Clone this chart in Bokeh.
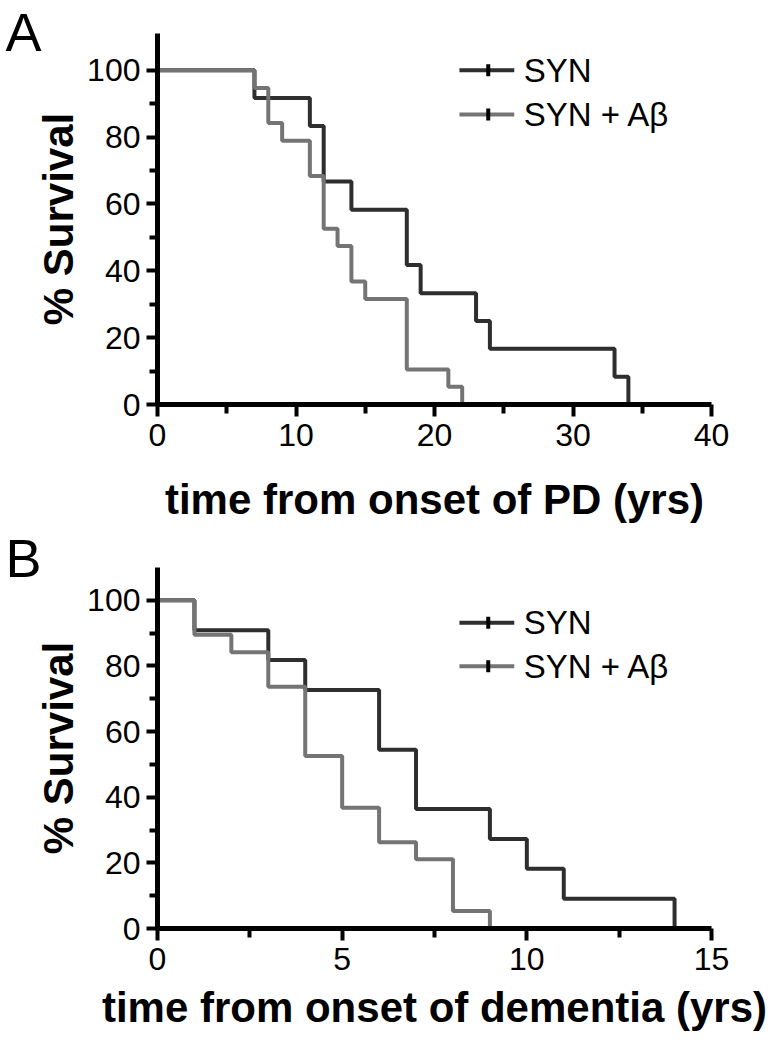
import math
from bokeh.plotting import figure
from bokeh.models import Range1d, FixedTicker
from bokeh.layouts import column
from bokeh.embed import file_html
from bokeh.resources import INLINE
from bokeh.core.properties import value

# ---------------- data ----------------
# Panel A: survival vs time from onset of PD (yrs)
a_syn_t = [0, 7, 11, 12, 14, 18, 19, 23, 24, 33, 34]
a_syn_s = [100, 91.7, 83.3, 66.7, 58.3, 41.7, 33.3, 25.0, 16.7, 8.3, 0]
a_ab_t = [0, 7, 8, 9, 11, 12, 13, 14, 15, 18, 21, 22]
a_ab_s = [100, 94.7, 84.2, 78.9, 68.4, 52.6, 47.4, 36.8, 31.6, 10.5, 5.3, 0]

# Panel B: survival vs time from onset of dementia (yrs)
b_syn_t = [0, 1, 3, 4, 6, 7, 9, 10, 11, 14]
b_syn_s = [100, 90.9, 81.8, 72.7, 54.5, 36.4, 27.3, 18.2, 9.1, 0]
b_ab_t = [0, 1, 2, 3, 4, 5, 6, 7, 8, 9]
b_ab_s = [100, 89.5, 84.2, 73.7, 52.6, 36.8, 26.3, 21.1, 5.3, 0]

series_labels = ["SYN", "SYN + A\u03b2"]
y_ticks = [0, 20, 40, 60, 80, 100]
y_minor = [10, 30, 50, 70, 90]
a_x_ticks = [0, 10, 20, 30, 40]
a_x_minor = [5, 15, 25, 35]
b_x_ticks = [0, 5, 10, 15]
b_x_minor = [2.5, 7.5, 12.5]

DARK = "#2e2e2e"
GRAY = "#747474"
FONT = "Liberation Sans"
FRAME_W = 554  # px, frame width


def make_panel(letter, xlabel, x_end, y_end, xt, xm, syn_t, syn_s, ab_t, ab_s,
               height, b_top, b_bottom, leg_y, lab_stand, title_stand, letter_stand):
    p = figure(width=767, height=height, output_backend="svg", toolbar_location=None,
               x_range=Range1d(0, x_end), y_range=Range1d(0, y_end),
               min_border_left=157, min_border_right=767 - 157 - FRAME_W,
               min_border_top=b_top, min_border_bottom=b_bottom, title=letter)
    p.outline_line_color = None
    p.grid.visible = False
    p.background_fill_color = "white"
    p.border_fill_color = "white"

    # panel letter as the figure title, pushed left of the y axis
    p.title.align = "left"
    p.title.offset = -152
    p.title.standoff = letter_stand
    p.title.text_font = FONT
    p.title.text_font_style = "normal"
    p.title.text_font_size = "54px"
    p.title.text_color = "black"

    p.step(syn_t, syn_s, mode="after", line_color=DARK, line_width=4)
    p.step(ab_t, ab_s, mode="after", line_color=GRAY, line_width=4)

    # legend drawn inside the frame
    lx0, lx1, lxm, ltx = 0.545 * x_end, 0.644 * x_end, 0.597 * x_end, 0.661 * x_end
    p.segment(x0=[lx0, lx0], y0=leg_y, x1=[lx1, lx1], y1=leg_y,
              line_color=[DARK, GRAY], line_width=4)
    p.scatter(x=[lxm, lxm], y=leg_y, marker="dash", angle=math.pi / 2, size=12,
              line_color="black", line_width=4)
    p.text(x=[ltx, ltx], y=leg_y, text=series_labels, text_font=value(FONT),
           text_font_size="33px", text_baseline="middle", text_color="black")

    p.xaxis.ticker = FixedTicker(ticks=xt, minor_ticks=xm)
    p.yaxis.ticker = FixedTicker(ticks=y_ticks, minor_ticks=y_minor)
    for ax in (p.xaxis, p.yaxis):
        ax.axis_line_width = 5
        ax.axis_line_color = "black"
        ax.major_tick_line_width = 4
        ax.minor_tick_line_width = 4
        ax.major_tick_line_color = "black"
        ax.minor_tick_line_color = "black"
        ax.major_tick_in = 0
        ax.minor_tick_in = 0
        ax.major_label_text_font = FONT
        ax.major_label_text_font_size = "32px"
        ax.major_label_text_color = "black"
        ax.axis_label_text_font = FONT
        ax.axis_label_text_font_style = "bold"
        ax.axis_label_text_font_size = "42px"
        ax.axis_label_text_color = "black"
    p.xaxis.major_tick_out = 12
    p.xaxis.minor_tick_out = 9
    p.yaxis.major_tick_out = 11
    p.yaxis.minor_tick_out = 8
    p.xaxis.major_label_standoff = lab_stand
    p.xaxis.axis_label_standoff = title_stand
    p.yaxis.major_label_standoff = 6
    p.yaxis.axis_label_standoff = 2
    p.xaxis.axis_label = xlabel
    p.yaxis.axis_label = "% Survival"
    return p


pa = make_panel("A", "time from onset of PD (yrs)", 40, 111, a_x_ticks, a_x_minor,
                a_syn_t, a_syn_s, a_ab_t, a_ab_s,
                height=525, b_top=33, b_bottom=121, leg_y=[100, 86.8],
                lab_stand=7, title_stand=27, letter_stand=-56)
pb = make_panel("B", "time from onset of dementia (yrs)", 15, 110, b_x_ticks, b_x_minor,
                b_syn_t, b_syn_s, b_ab_t, b_ab_s,
                height=508, b_top=42, b_bottom=101, leg_y=[93.2, 79.9],
                lab_stand=7, title_stand=11, letter_stand=-40)

layout = column(pa, pb, spacing=0)
open("out.html", "w").write(file_html(layout, INLINE))
